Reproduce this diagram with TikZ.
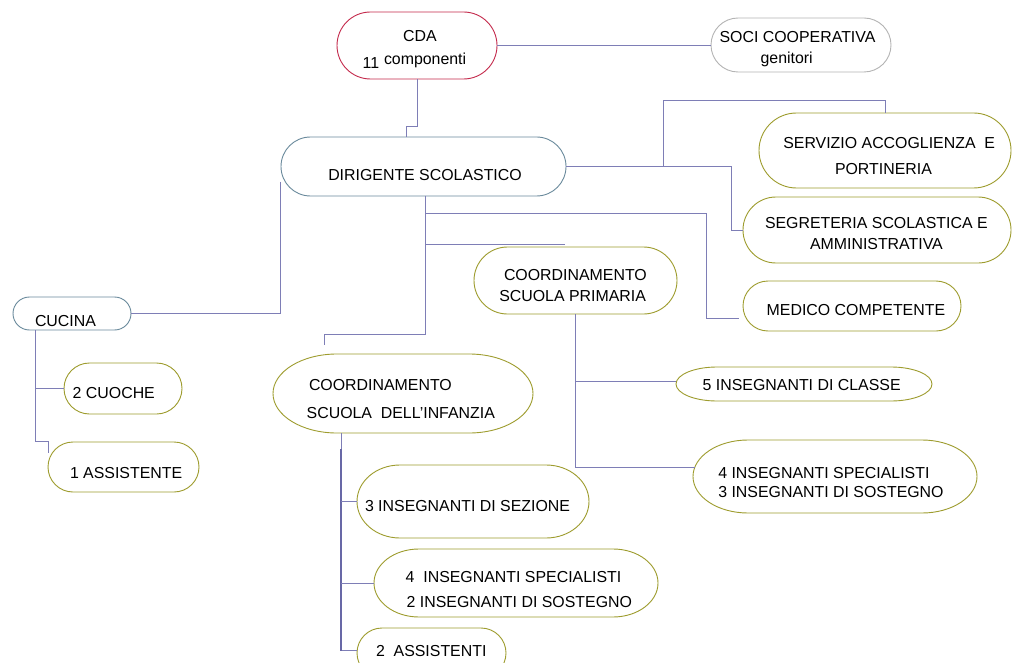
\documentclass[tikz,border=0pt]{standalone}
\usepackage{fontspec}
\setmainfont{Liberation Sans}
\definecolor{linec}{HTML}{7E7EB6}
\definecolor{trunkc}{HTML}{6868A6}
\definecolor{redc}{HTML}{C42A4C}
\definecolor{olivec}{HTML}{9E9C2E}
\definecolor{bluec}{HTML}{6A8A9C}
\definecolor{grayc}{HTML}{B4B4B4}
\newcommand\ebox[8]{%
  \node[inner sep=0pt, outer sep=0pt, minimum width={(#4-#2)*1pt}, minimum height={(#5-#3)*1pt}] (#1) at ({(#2+#4)/2},{(#3+#5)/2}) {};
  \draw[#8] ({#2+#6},#3) -- ({#4-#6},#3)
    .. controls ({#4-#6+0.5523*#6},#3) and (#4,{#3+#7-0.5523*#7}) .. (#4,{#3+#7})
    -- (#4,{#5-#7})
    .. controls (#4,{#5-#7+0.5523*#7}) and ({#4-#6+0.5523*#6},#5) .. ({#4-#6},#5)
    -- ({#2+#6},#5)
    .. controls ({#2+#6-0.5523*#6},#5) and (#2,{#5-#7+0.5523*#7}) .. (#2,{#5-#7})
    -- (#2,{#3+#7})
    .. controls (#2,{#3+#7-0.5523*#7}) and ({#2+#6-0.5523*#6},#3) .. ({#2+#6},#3) -- cycle;
}
\tikzset{
  conn/.style={draw=linec, line width=0.9pt},
  redbox/.style={draw=redc, line width=0.9pt},
  olivebox/.style={draw=olivec, line width=0.9pt},
  bluebox/.style={draw=bluec, line width=0.9pt},
  graybox/.style={draw=grayc, line width=0.9pt},
  lbl/.style={inner sep=0pt, outer sep=0pt, font=\fontsize{15.9}{18}\selectfont, text=black},
}
\begin{document}
\begin{tikzpicture}[x=1pt, y=-1pt]
\clip (0,0) rectangle (1014,663);
\useasboundingbox (0,0) rectangle (1014,663);
\fill[white] (0,0) rectangle (1014,663);

% boxes
\ebox{cda}{337}{12}{497}{79}{33.5}{33.5}{redbox}
\ebox{soci}{711}{18}{891}{72}{27}{27}{graybox}
\ebox{dir}{281}{137}{566}{196}{29.5}{29.5}{bluebox}
\ebox{serv}{759}{113}{1011}{188}{37.5}{37.5}{olivebox}
\ebox{segr}{743}{197}{1011}{263}{33}{33}{olivebox}
\ebox{med}{743}{281}{961}{331}{25}{25}{olivebox}
\ebox{cuc}{13}{297}{131}{330}{16.5}{16.5}{bluebox}
\ebox{cuoche}{64}{363}{182}{414}{25.5}{25.5}{olivebox}
\ebox{asone}{48}{442}{199}{492}{25}{25}{olivebox}
\ebox{prim}{474}{247}{677}{314}{33.5}{33.5}{olivebox}
\ebox{inf}{273}{354}{533}{433}{64}{39.5}{olivebox}
\ebox{cls}{676}{367}{932}{401}{41}{17}{olivebox}
\ebox{specthree}{693}{440}{977}{513}{55}{36.5}{olivebox}
\ebox{sez}{357}{465}{589}{538}{43}{36.5}{olivebox}
\ebox{spectwo}{374}{549}{658}{617}{45}{34}{olivebox}
\ebox{astwo}{357}{628}{506}{678}{25}{25}{olivebox}

% free ends
\coordinate (infend) at ([shift={(-79,-9)}]inf.north);
\coordinate (primend) at ([shift={(-10.5,-2.5)}]prim.north);

% connectors
\draw[conn] (cda.east) -- (cda.east -| soci.west);
\draw[conn] (cda.south) -- ++(0,47.7) -| ([xshift=-16.8pt]dir.north);
\draw[conn] (dir.east) -| ++(97,-66.3) -| (serv.north);
\draw[conn] (dir.east) -| ([shift={(-12,0)}]segr.west) -- (segr.west);
\draw[conn] ([xshift=2.2pt]dir.south) -- ++(0,17.3) -| ++(280.3,105.4) -- ([shift={(-4,12.7)}]med.west);
\draw[conn] ([xshift=2.2pt]dir.south) -- ++(0,138) -| (infend);
\draw[conn] ([xshift=2.2pt]dir.south) ++(0,48.5) -- (primend);
\draw[conn] ([shift={(-0.3,15.2)}]dir.west) |- (cuc.east);
\draw[conn] ([xshift=-37pt]cuc.south) -- ++(0,111) -| ([shift={(0,-14)}]asone.west);
\draw[conn] (cuoche.west) -- ++(-29,0);
\draw[conn] (prim.south) |- ([shift={(1.5,-9.2)}]specthree.west);
\draw[conn] ([shift={(0,-2.5)}]cls.west) -- ++(-100.3,0);
\draw[conn] ([xshift=-62pt]inf.south) |- ([shift={(0,-2.3)}]astwo.west);
\draw[draw=trunkc, line width=1.6pt] ([shift={(-62,16)}]inf.south) -- ([shift={(-62,217.7)}]inf.south);
\draw[conn] (sez.west) -- ++(-16,0);
\draw[conn] (spectwo.west) -- ++(-33,0);

% labels
\node[lbl, anchor=base] (tcda) at (420,41.7) {CDA};
\node[lbl, anchor=base west] (televen) at (362.7,69) {11};
\node[lbl, anchor=base west] (tcomp) at (384,64.3) {componenti};
\node[lbl, anchor=base] (tsoci) at (797.5,43) {SOCI COOPERATIVA};
\node[lbl, anchor=base] (tgen) at (786.7,64) {genitori};
\node[lbl, anchor=base] (tdir) at (425,180.3) {DIRIGENTE SCOLASTICO};
\node[lbl, anchor=base west] (tservone) at (783.3,149) {SERVIZIO ACCOGLIENZA\ \ E};
\node[lbl, anchor=base west] (tservtwo) at (835,174.3) {PORTINERIA};
\node[lbl, anchor=base west] (tsegrone) at (765,228.3) {SEGRETERIA SCOLASTICA E};
\node[lbl, anchor=base west] (tsegrtwo) at (810,249.3) {AMMINISTRATIVA};
\node[lbl, anchor=base west] (tmed) at (766.7,315) {MEDICO COMPETENTE};
\node[lbl, anchor=base west] (tcuc) at (35,326) {CUCINA};
\node[lbl, anchor=base west] (tcuoche) at (72.7,398.3) {2 CUOCHE};
\node[lbl, anchor=base west] (tasone) at (70,478.7) {1 ASSISTENTE};
\node[lbl, anchor=base west] (tprimone) at (504,280) {COORDINAMENTO};
\node[lbl, anchor=base west] (tprimtwo) at (499.3,301) {SCUOLA PRIMARIA};
\node[lbl, anchor=base west] (tinfone) at (309,390) {COORDINAMENTO};
\node[lbl, anchor=base west] (tinftwo) at (306.7,418.3) {SCUOLA\ \ DELL’INFANZIA};
\node[lbl, anchor=base west] (tcls) at (702.7,390) {5 INSEGNANTI DI CLASSE};
\node[lbl, anchor=base west] (tspthreea) at (718.3,478.3) {4 INSEGNANTI SPECIALISTI};
\node[lbl, anchor=base west] (tspthreeb) at (718.3,497.3) {3 INSEGNANTI DI SOSTEGNO};
\node[lbl, anchor=base west] (tsez) at (365,511.7) {3 INSEGNANTI DI SEZIONE};
\node[lbl, anchor=base west] (tsptwoa) at (405.7,582.7) {4\ \ INSEGNANTI SPECIALISTI};
\node[lbl, anchor=base west] (tsptwob) at (406.7,607.7) {2 INSEGNANTI DI SOSTEGNO};
\node[lbl, anchor=base west] (tastwo) at (376,656.7) {2\ \ ASSISTENTI};
\end{tikzpicture}
\end{document}
